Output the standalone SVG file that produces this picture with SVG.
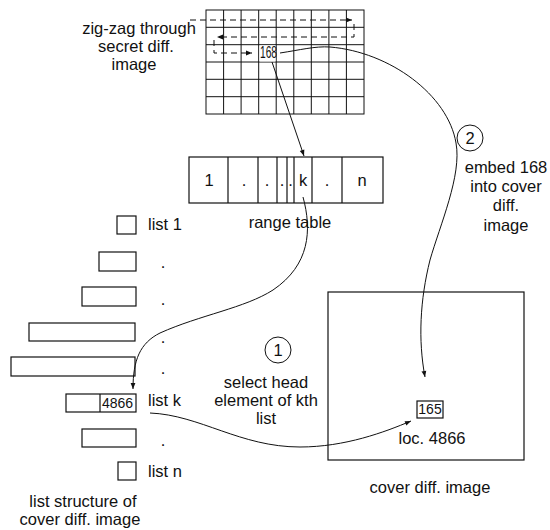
<svg xmlns="http://www.w3.org/2000/svg" width="550" height="530" viewBox="0 0 550 530">
<style>
text{font-family:"Liberation Sans",Arial,sans-serif;font-size:16.5px;fill:#111}
.m{text-anchor:middle}
.sm{font-size:14px}
.box{fill:none;stroke:#111;stroke-width:1.2}
.grid{fill:none;stroke:#111;stroke-width:1}
.conn{fill:none;stroke:#111;stroke-width:1}
.dash{fill:none;stroke:#111;stroke-width:1;stroke-dasharray:6 4}
</style>
<defs>
<marker id="ah" viewBox="0 0 10 10" refX="10" refY="5" markerWidth="8" markerHeight="6" orient="auto" markerUnits="userSpaceOnUse">
<path d="M0,1 L10,5 L0,9 z" fill="#111"/>
</marker>
</defs>
<rect width="550" height="530" fill="#fff"/>

<g id="secret-image">
<rect class="grid" x="206" y="10" width="158" height="104"/>
<path class="grid" d="M223.6 10V114M241.1 10V114M258.7 10V114M276.2 10V114M293.8 10V114M311.3 10V114M328.9 10V114M346.4 10V114M206 27.3H364M206 44.7H364M206 62H364M206 79.3H364M206 96.7H364"/>
<rect x="259.5" y="45.5" width="16" height="16" fill="#fff"/>
<text class="m" x="268.5" y="58" font-size="13" textLength="17" lengthAdjust="spacingAndGlyphs">168</text>
<text class="m" x="139" y="34">zig-zag through</text>
<text class="m" x="136" y="52">secret diff.</text>
<text class="m" x="134" y="70">image</text>
</g>

<g id="zigzag">
<path class="dash" d="M190 20 L352 20" marker-end="url(#ah)"/>
<path class="dash" d="M354 24 L354 37 L217 37" marker-end="url(#ah)"/>
<path class="dash" d="M214 40 L214 53 L252 53" marker-end="url(#ah)"/>
</g>

<g id="range-table">
<rect class="box" x="189" y="157" width="194" height="46"/>
<path class="box" d="M228 157V203M258 157V203M277 157V203M287 157V203M294 157V203M312 157V203M342 157V203"/>
<text class="m" x="209" y="186">1</text>
<text class="m" x="244" y="186">.</text>
<text class="m" x="267" y="186">.</text>
<text class="m" x="282" y="186">.</text>
<text class="m" x="290.5" y="186">.</text>
<text class="m" x="303" y="186">k</text>
<text class="m" x="327" y="186">.</text>
<text class="m" x="362" y="186">n</text>
<text class="m" x="290" y="228">range table</text>
</g>

<g id="list-1"><rect class="box" x="117" y="216" width="19" height="18"/><text x="148" y="230">list 1</text></g>
<g id="list-2"><rect class="box" x="99" y="252" width="37" height="19"/><text class="m" x="163" y="268">.</text></g>
<g id="list-3"><rect class="box" x="82" y="287" width="54" height="19"/><text class="m" x="163" y="305">.</text></g>
<g id="list-4"><rect class="box" x="29" y="323" width="106" height="18"/><text class="m" x="163" y="343">.</text></g>
<g id="list-5"><rect class="box" x="11" y="357" width="124" height="19"/><text class="m" x="163" y="374">.</text></g>
<g id="list-k"><rect class="box" x="66" y="394" width="70" height="18"/><path class="box" d="M100 394V412"/><text class="m sm" x="117.5" y="408">4866</text><text x="148" y="406">list k</text></g>
<g id="list-7"><rect class="box" x="82" y="429" width="54" height="18"/><text class="m" x="163" y="446">.</text></g>
<g id="list-n"><rect class="box" x="118" y="462" width="18" height="18"/><text x="148" y="477">list n</text></g>
<g id="list-caption">
<text class="m" x="83" y="507">list structure of</text>
<text class="m" x="80" y="525">cover diff. image</text>
</g>

<g id="cover-image">
<rect class="box" x="328" y="292" width="196" height="168"/>
<rect class="box" x="417" y="401" width="26" height="17"/>
<text class="m sm" x="430" y="414">165</text>
<text class="m" x="432" y="444">loc. 4866</text>
<text class="m" x="430" y="493">cover diff. image</text>
</g>

<g id="step-1">
<circle class="conn" cx="278" cy="350" r="13"/>
<text class="m" x="278" y="356" font-size="15">1</text>
<text class="m" x="266" y="388">select head</text>
<text class="m" x="266" y="406">element of kth</text>
<text class="m" x="266" y="424">list</text>
</g>

<g id="step-2">
<circle class="conn" cx="470" cy="138" r="13"/>
<text class="m" x="470" y="144" font-size="15">2</text>
<text class="m" x="506" y="173">embed 168</text>
<text class="m" x="506" y="192">into cover</text>
<text class="m" x="506" y="211">diff.</text>
<text class="m" x="506" y="231">image</text>
</g>

<g id="connectors">
<path class="conn" d="M272 62 L304 156" marker-end="url(#ah)"/>
<path class="conn" d="M303 197 C312 230 310 265 273 290 C245 308 200 315 160 333 C140 343 133 360 133 389" marker-end="url(#ah)"/>
<path class="conn" d="M150 413 C200 415 240 447 300 447 C345 447 385 432 411 421" marker-end="url(#ah)"/>
<path class="conn" d="M280 53 C300 50 315 46 330 47 C390 52 448 95 456 143 C462 175 440 225 430 260 C420 300 418 340 425 377" marker-end="url(#ah)"/>
</g>
</svg>
